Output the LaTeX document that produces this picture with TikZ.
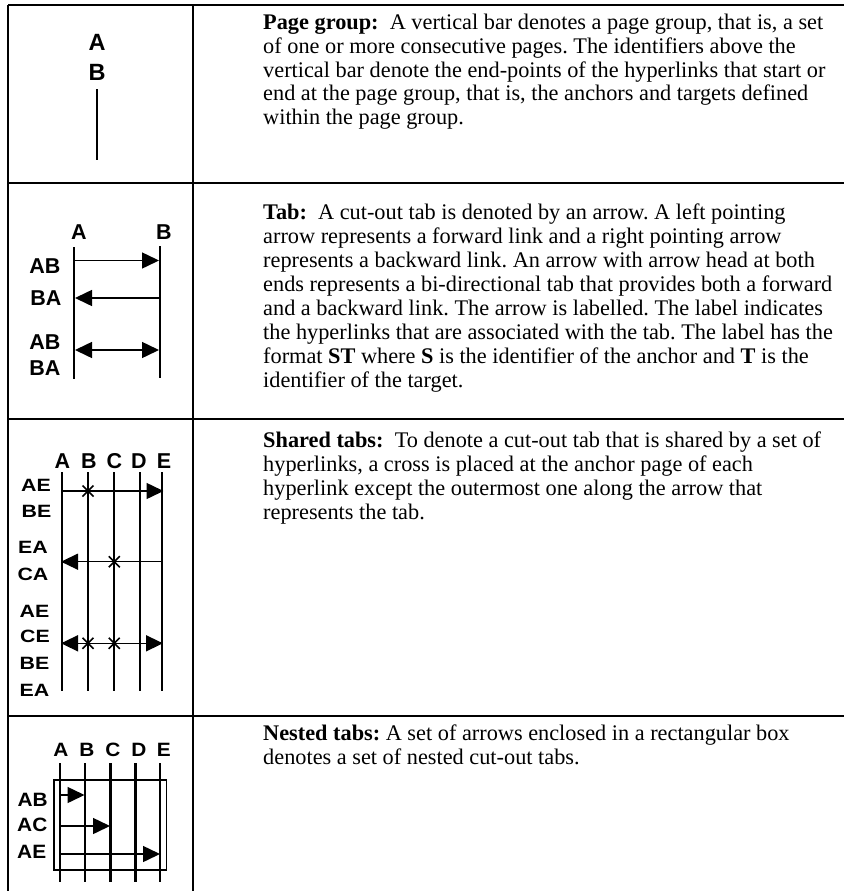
\documentclass[tikz,border=0pt]{standalone}
\usepackage{fontspec}
\setmainfont{Liberation Serif}
\newfontfamily\hv{Liberation Sans}
\newfontfamily\hvw[FakeStretch=1.2]{Liberation Sans}
\newfontfamily\hvm[FakeStretch=1.08]{Liberation Sans}
\usetikzlibrary{arrows.meta}
\tikzset{
  grid/.style={line width=1.8pt},
  pagebar/.style={line width=2.3pt},
  tabline/.style={line width=1.5pt},
  tabbox/.style={line width=1.8pt},
  crossline/.style={line width=1.6pt},
  bigtip/.style={arrows={-Triangle[length=17pt,width=16pt]}},
  bigtips/.style={arrows={Triangle[length=17pt,width=16pt]-Triangle[length=17pt,width=16pt]}},
  lab/.style={inner sep=0pt, font=\hv\bfseries\fontsize{21.5}{21.5}\selectfont},
  labbig/.style={inner sep=0pt, font=\hv\bfseries\fontsize{23.5}{23.5}\selectfont},
  labw/.style={inner sep=0pt, font=\hvw\bfseries\fontsize{17.8}{17.8}\selectfont},
  labm/.style={inner sep=0pt, font=\hvm\bfseries\fontsize{19.3}{19.3}\selectfont},
  txt/.style={anchor=base west, inner sep=0pt, font=\fontsize{22.3}{24}\selectfont\frenchspacing},
}
\begin{document}
\begin{tikzpicture}[x=1pt,y=-1pt]
\useasboundingbox (0,0) rectangle (844,891);
% table rules
\draw[grid] (8,5) -- (844,5);
\draw[grid] (8,183) -- (844,183);
\draw[grid] (8,419) -- (844,419);
\draw[grid] (8,716) -- (844,716);
\draw[grid] (8,5) -- (8,891);
\draw[grid] (193,5) -- (193,891);

% ---------- Row 1 : page group
\node[labbig] (r1A) at (97,42.5) {A};
\node[labbig] (r1B) at (97,72.5) {B};
\coordinate (r1top) at (97,89);
\coordinate (r1bot) at (97,160);
\draw[pagebar] (r1top) -- (r1bot);

% ---------- Row 2 : tab
\node[lab] (r2A) at (79,232.5) {A};
\node[lab] (r2B) at (164,232) {B};
\coordinate (r2At) at (74,247);  \coordinate (r2Ab) at (74,379);
\coordinate (r2Bt) at (160,246); \coordinate (r2Bb) at (160,378);
\draw[pagebar] (r2At) -- (r2Ab);
\draw[pagebar] (r2Bt) -- (r2Bb);
\node[lab] (r2l1) at (45,266) {AB};
\node[lab] (r2l2) at (46,298) {BA};
\node[lab] (r2l3) at (45,342) {AB};
\node[lab] (r2l4) at (45,368) {BA};
\coordinate (r2a1s) at (74,260.5);  \coordinate (r2a1e) at (159,260.5);
\coordinate (r2a2s) at (160,298);   \coordinate (r2a2e) at (75,298);
\coordinate (r2a3s) at (75,350);    \coordinate (r2a3e) at (159,350);
\draw[tabline,bigtip] (r2a1s) -- (r2a1e);
\draw[tabline,bigtip] (r2a2s) -- (r2a2e);
\draw[tabline,bigtips] (r2a3s) -- (r2a3e);

% ---------- Row 3 : shared tabs
\node[lab] (r3A) at (62.5,461) {A};
\node[lab] (r3B) at (89,461) {B};
\node[lab] (r3C) at (114.5,461) {C};
\node[lab] (r3D) at (139,461) {D};
\node[lab] (r3E) at (164,461) {E};
\foreach \n/\x in {A/61.7,B/88,C/114.3,D/140.3,E/162.3}{
  \coordinate (r3\n t) at (\x,472);
  \coordinate (r3\n b) at (\x,690.5);
  \draw[pagebar] (r3\n t) -- (r3\n b);
}
\node[labw] (r3l1) at (36,485.5) {AE};
\node[labw] (r3l2) at (36.5,511) {BE};
\node[labw] (r3l3) at (33,547.5) {EA};
\node[labw] (r3l4) at (33,574) {CA};
\node[labw] (r3l5) at (34.5,611.7) {AE};
\node[labw] (r3l6) at (35,636.7) {CE};
\node[labw] (r3l7) at (34.5,663) {BE};
\node[labw] (r3l8) at (34.5,690) {EA};
\coordinate (r3a1s) at (61.7,491);   \coordinate (r3a1e) at (163.5,491);
\coordinate (r3a2s) at (162.3,561.7); \coordinate (r3a2e) at (61,561.7);
\coordinate (r3a3s) at (61,643.3);   \coordinate (r3a3e) at (163,643.3);
\draw[tabline,bigtip] (r3a1s) -- (r3a1e);
\draw[tabline,bigtip] (r3a2s) -- (r3a2e);
\draw[tabline,bigtips] (r3a3s) -- (r3a3e);
\foreach \cx/\cy in {88/491, 114.3/561.7, 88/643.3, 114.3/643.3}{
  \draw[crossline] (\cx-5.5,\cy-5.5) -- (\cx+5.5,\cy+5.5);
  \draw[crossline] (\cx-5.5,\cy+5.5) -- (\cx+5.5,\cy-5.5);
}

% ---------- Row 4 : nested tabs
\node[labm] (r4A) at (60.8,749.7) {A};
\node[labm] (r4B) at (87,749.7) {B};
\node[labm] (r4C) at (113,749.7) {C};
\node[labm] (r4D) at (139,749.7) {D};
\node[labm] (r4E) at (163.7,749.7) {E};
\foreach \n/\x in {A/60,B/85,C/110.5,D/135.5,E/160.3}{
  \coordinate (r4\n t) at (\x,763);
  \coordinate (r4\n b) at (\x,882);
  \draw[pagebar] (r4\n t) -- (r4\n b);
}
\draw[tabbox] (54,780) rectangle (166.5,870);
\node[labm] (r4l1) at (32.7,800) {AB};
\node[labm] (r4l2) at (32.3,825) {AC};
\node[labm] (r4l3) at (31.7,851.7) {AE};
\coordinate (r4a1s) at (60,795);  \coordinate (r4a1e) at (84.5,795);
\coordinate (r4a2s) at (60,826);  \coordinate (r4a2e) at (110,826);
\coordinate (r4a3s) at (60,854);  \coordinate (r4a3e) at (160,854);
\draw[tabline,bigtip] (r4a1s) -- (r4a1e);
\draw[tabline,bigtip] (r4a2s) -- (r4a2e);
\draw[tabline,bigtip] (r4a3s) -- (r4a3e);

% ---------- Text column
\node[txt] (t11) at (263,29.5)  {\textbf{Page group:}\ \ A vertical bar denotes a page group, that is, a set};
\node[txt] (t12) at (263,53.3)  {of one or more consecutive pages. The identifiers above the};
\node[txt] (t13) at (263,77.1)  {vertical bar denote the end-points of the hyperlinks that start or};
\node[txt] (t14) at (263,100.9) {end at the page group, that is, the anchors and targets defined};
\node[txt] (t15) at (263,124.7) {within the page group.};

\node[txt] (t21) at (263,219.5) {\textbf{Tab:}\ \ A cut-out tab is denoted by an arrow. A left pointing};
\node[txt] (t22) at (263,243.5) {arrow represents a forward link and a right pointing arrow};
\node[txt] (t23) at (263,267.5) {represents a backward link. An arrow with arrow head at both};
\node[txt] (t24) at (263,291.5) {ends represents a bi-directional tab that provides both a forward};
\node[txt] (t25) at (263,315.5) {and a backward link. The arrow is labelled. The label indicates};
\node[txt] (t26) at (263,339.5) {the hyperlinks that are associated with the tab. The label has the};
\node[txt] (t27) at (263,363.5) {format \textbf{ST} where \textbf{S} is the identifier of the anchor and \textbf{T} is the};
\node[txt] (t28) at (263,387.5) {identifier of the target.};

\node[txt] (t31) at (263,447.5) {\textbf{Shared tabs:}\ \ To denote a cut-out tab that is shared by a set of};
\node[txt] (t32) at (263,471.5) {hyperlinks, a cross is placed at the anchor page of each};
\node[txt] (t33) at (263,495.5) {hyperlink except the outermost one along the arrow that};
\node[txt] (t34) at (263,519.5) {represents the tab.};

\node[txt] (t41) at (263,740.5) {\textbf{Nested tabs:} A set of arrows enclosed in a rectangular box};
\node[txt] (t42) at (263,764.5) {denotes a set of nested cut-out tabs.};
\end{tikzpicture}
\end{document}
